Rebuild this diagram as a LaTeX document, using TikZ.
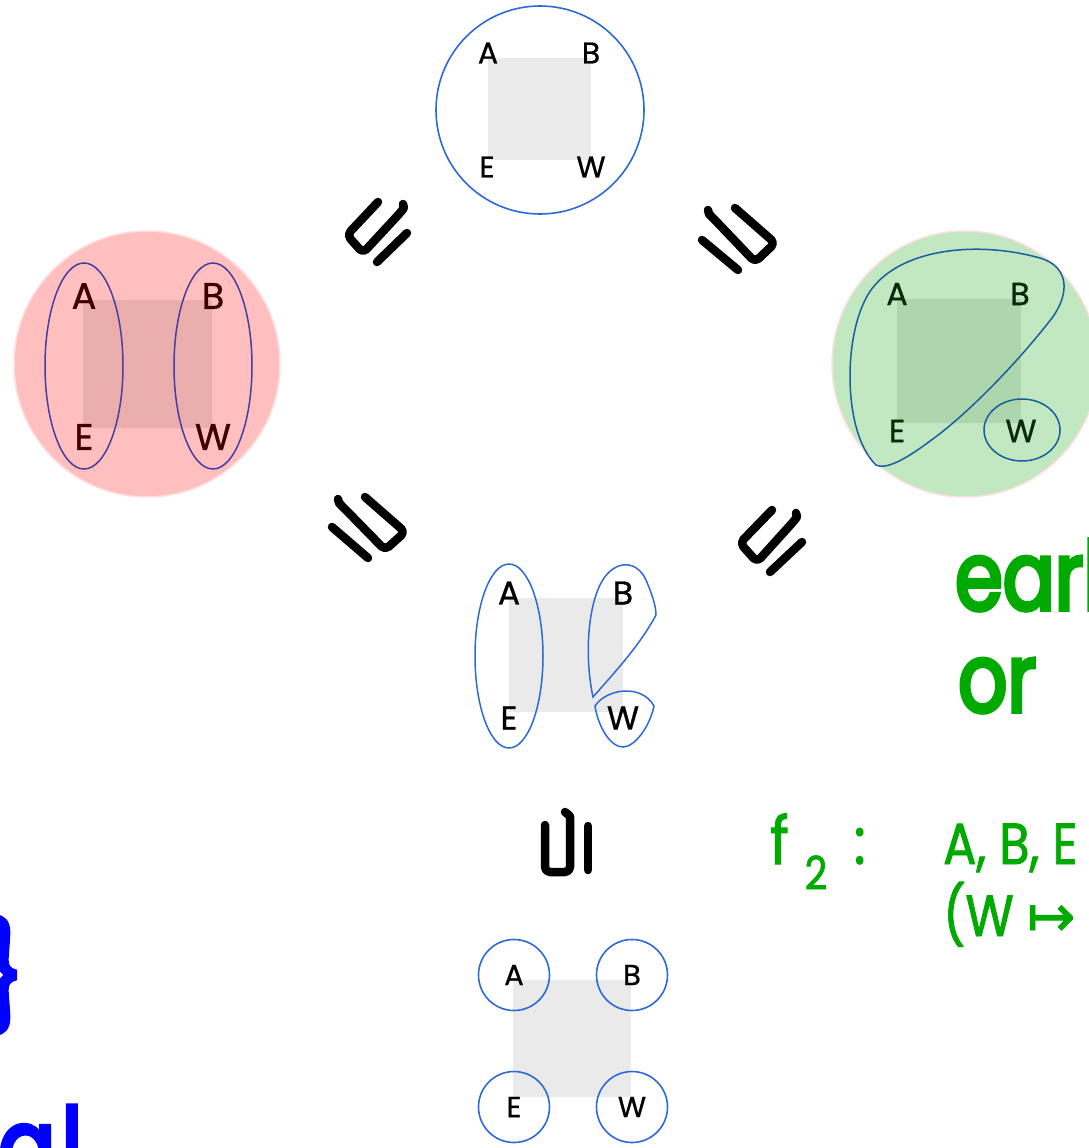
\documentclass[tikz,border=0pt]{standalone}
\usepackage{fontspec}
\setmainfont{Poppins}
\newfontfamily\lblf[FakeBold=0.8]{Poppins}
\newfontfamily\hand[FakeStretch=0.8,FakeBold=4]{Poppins}
\newfontfamily\handthin[FakeStretch=0.85,FakeBold=1.5]{Poppins}
\newfontfamily\symf[FakeBold=1.5]{DejaVu Sans}
\definecolor{ringblue}{RGB}{45,105,215}
\definecolor{sqgray}{RGB}{234,234,234}
\definecolor{redfill}{RGB}{255,191,191}
\definecolor{rededge}{RGB}{255,222,222}
\definecolor{redsq}{RGB}{235,174,174}
\definecolor{redline}{RGB}{70,62,160}
\definecolor{redtext}{RGB}{60,0,0}
\definecolor{greenfill}{RGB}{193,232,193}
\definecolor{greensq}{RGB}{173,214,173}
\definecolor{greenline}{RGB}{25,95,160}
\definecolor{greentext}{RGB}{12,40,12}
\definecolor{inkgreen}{RGB}{0,170,0}
\definecolor{inkblue}{RGB}{0,0,255}
\begin{document}
\begin{tikzpicture}[x=1pt,y=-1pt,
  lbl/.style={inner sep=0pt, font=\lblf\fontsize{#1}{#1}\selectfont},
  ring/.style={draw=ringblue, line width=1.6pt},
  order/.style={line width=8.5pt, line cap=round, line join=round, rounded corners=5pt},
  greenink/.style={inner sep=0pt, text=inkgreen, anchor=base west},
  blueink/.style={inner sep=0pt, text=inkblue}]
\useasboundingbox (0,0) rectangle (1088,1148);

% ---- top: one block holding all four points
\fill[sqgray] (488,58) rectangle (591,160);
\node[circle, ring, minimum size=208pt, inner sep=0pt] (topring) at (540,110) {};
\node[lbl=30] (tA) at (488,53) {A};
\node[lbl=30] (tB) at (591,53) {B};
\node[lbl=30] (tE) at (487,167) {E};
\node[lbl=30] (tW) at (591,167) {W};

% ---- left: {A,E} and {B,W}
\node[circle, fill=redfill, draw=rededge, line width=1.5pt, minimum size=266pt, inner sep=0pt] (redring) at (147,364) {};
\fill[redsq] (83,300) rectangle (212,428);
\draw[redline, line width=1.5pt] (84,366) ellipse [x radius=39, y radius=103];
\draw[redline, line width=1.5pt] (213,366) ellipse [x radius=39, y radius=103];
\node[lbl=37, text=redtext] (rA) at (84,296) {A};
\node[lbl=37, text=redtext] (rB) at (213,296) {B};
\node[lbl=37, text=redtext] (rE) at (84,437) {E};
\node[lbl=37, text=redtext] (rW) at (213,437) {W};

% ---- right: {A,B,E} and {W}
\node[circle, fill=greenfill, draw=rededge, line width=1.5pt, minimum size=266pt, inner sep=0pt] (greenring) at (965,364) {};
\fill[greensq] (897,299) rectangle (1021,423);
\draw[greenline, line width=1.5pt]
  (876,465) .. controls (840,430) and (843,320) .. (875,285)
  .. controls (905,250) and (975,240) .. (1040,258)
  .. controls (1068,266) and (1071,292) .. (1052,318)
  .. controls (1010,372) and (960,420) .. (930,441)
  .. controls (905,460) and (885,470) .. (876,465) -- cycle;
\draw[greenline, line width=1.5pt] (1022,430) ellipse [x radius=38, y radius=31];
\node[lbl=32, text=greentext] (gA) at (897,294) {A};
\node[lbl=32, text=greentext] (gB) at (1020,294) {B};
\node[lbl=32, text=greentext] (gE) at (897,431) {E};
\node[lbl=32, text=greentext] (gW) at (1021,431) {W};

% ---- middle: {A,E}, {B}, {W}
\fill[sqgray] (509,598) rectangle (623,712);
\draw[ringblue, line width=1.5pt] (509,656) ellipse [x radius=34, y radius=92];
\draw[ringblue, line width=1.5pt]
  (593,697) .. controls (585,660) and (587,612) .. (600,585)
  .. controls (612,560) and (636,558) .. (646,580)
  .. controls (652,594) and (656,606) .. (656,615)
  .. controls (640,645) and (615,672) .. (593,697) -- cycle;
\draw[ringblue, line width=1.5pt]
  (595,706) .. controls (607,688) and (642,684) .. (654,706)
  .. controls (650,726) and (635,747) .. (623,747)
  .. controls (610,747) and (598,726) .. (595,706) -- cycle;
\node[lbl=33] (mA) at (509,593) {A};
\node[lbl=33] (mB) at (623,593) {B};
\node[lbl=33] (mE) at (509,718) {E};
\node[lbl=33] (mW) at (623,718) {W};

% ---- bottom: every point on its own
\fill[sqgray] (513,980) rectangle (631,1097);
\node[circle, ring, minimum size=71pt, inner sep=0pt] (cA) at (514,975) {};
\node[circle, ring, minimum size=71pt, inner sep=0pt] (cB) at (632,975) {};
\node[circle, ring, minimum size=71pt, inner sep=0pt] (cE) at (514,1107) {};
\node[circle, ring, minimum size=71pt, inner sep=0pt] (cW) at (632,1107) {};
\node[lbl=29] (bA) at (cA) {A};
\node[lbl=29] (bB) at (cB) {B};
\node[lbl=29] (bE) at (cE) {E};
\node[lbl=29] (bW) at (cW) {W};

% ---- hand-drawn order signs between the partitions
% top-left
\draw[order] (378,202) -- (347,235) -- (363,253) -- (400,213) .. controls (404,208) .. (403,204);
\draw[order] (377,262) -- (407,233);
% top-right
\draw[order] (735,208) -- (775,243) -- (755,262) -- (713,218) .. controls (709,214) .. (708,210);
\draw[order] (702,240) -- (738,270);
% lower-left
\draw[order] (365,497) -- (405,532) -- (385,550) -- (343,507) .. controls (339,503) .. (338,499);
\draw[order] (332,527) -- (368,558);
% lower-right
\draw[order] (772,510) -- (740,543) -- (757,562) -- (794,521) .. controls (797,517) .. (796,513);
\draw[order] (770,572) -- (802,542);
% bottom
\draw[order] (545,825) -- (545,872) -- (570,872) -- (570,822) .. controls (570,816) .. (565,812);
\draw[order] (588,826) -- (588,870);

% ---- handwritten notes
\node[greenink, font=\hand\fontsize{96}{96}\selectfont] (early) at (955,610) {earl};
\node[greenink, font=\hand\fontsize{96}{96}\selectfont] (orword) at (958,712) {or};
\node[greenink, font=\handthin\fontsize{66}{66}\selectfont] (ftwo) at (770,864) {f\hspace{16pt}\textsubscript{2}\hspace{26pt}:};
\node[greenink, font=\handthin\fontsize{58}{58}\selectfont] (abe) at (943,864) {A, B, E};
\node[greenink, font=\handthin\fontsize{58}{58}\selectfont] (wmap) at (943,936) {(W {\symf ↦}};
\node[blueink, anchor=east, font=\hand\fontsize{104}{104}\selectfont] (brace) at (24,975) {\}};
\node[blueink, anchor=base west, font=\hand\fontsize{106}{106}\selectfont] (al) at (-2,1184) {a\hspace{6pt}l};
\end{tikzpicture}
\end{document}
